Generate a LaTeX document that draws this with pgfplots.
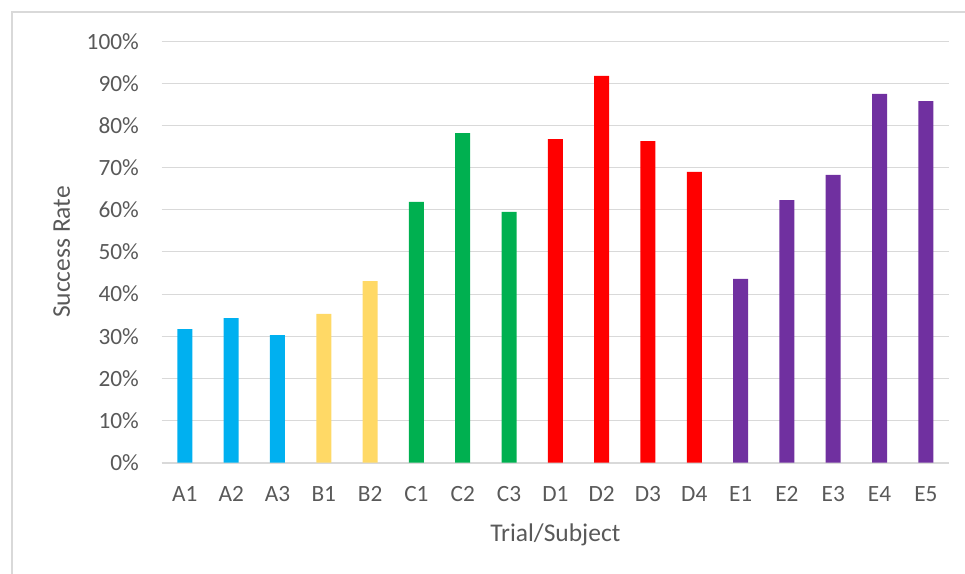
\documentclass[border=0pt]{standalone}
\usepackage{fontspec}
\setmainfont{Carlito}
\usepackage{pgfplots}
\pgfplotsset{compat=1.18}

\definecolor{txtgray}{HTML}{595959}
\definecolor{gridgray}{HTML}{D9D9D9}
\definecolor{cA}{HTML}{00B0F0}
\definecolor{cB}{HTML}{FFD966}
\definecolor{cC}{HTML}{00B050}
\definecolor{cD}{HTML}{FF0000}
\definecolor{cE}{HTML}{7030A0}

\begin{document}
\begin{tikzpicture}
\useasboundingbox (0pt,0pt) rectangle (965pt,573pt);
\draw[gridgray, line width=1.2pt] (12pt,-20pt) -- (12pt,561pt) -- (990pt,561pt);
\begin{axis}[
  at={(161.7pt,110.3pt)}, anchor=south west,
  scale only axis, width=787.3pt, height=421.4pt,
  xmin=-0.5, xmax=16.5, ymin=0, ymax=100,
  ybar, bar width=15pt,
  axis line style={draw=none},
  axis x line*=bottom,
  major tick length=0pt,
  ymajorgrids, grid style={gridgray, line width=1pt},
  xtick={0,...,16},
  xticklabels={A1,A2,A3,B1,B2,C1,C2,C3,D1,D2,D3,D4,E1,E2,E3,E4,E5},
  ytick={0,10,...,100},
  yticklabel={\pgfmathprintnumber{\tick}\%},
  /pgf/number format/assume math mode=true,
  tick label style={font=\fontsize{23.3}{28}\selectfont, text=txtgray},
  yticklabel style={anchor=east, inner sep=0pt, xshift=-22.7pt},
  xticklabel style={anchor=base, inner sep=0pt, yshift=-38.3pt},
  xlabel={Trial/Subject}, ylabel={Success Rate},
  label style={font=\fontsize{25.5}{31}\selectfont, text=txtgray},
  xlabel style={at={(axis description cs:0.5,0)}, anchor=base, inner sep=0pt, yshift=-78.3pt},
  ylabel style={at={(axis description cs:0,0.5)}, anchor=base, inner sep=0pt, yshift=91.7pt},
  every axis plot/.append style={bar shift=0pt, draw=none},
  clip=false,
]
\draw[gridgray, line width=1.6pt] (axis cs:-0.5,0) -- (axis cs:16.5,0);
\addplot[fill=cA] coordinates {(0,31.7) (1,34.3) (2,30.3)};
\addplot[fill=cB] coordinates {(3,35.3) (4,43.1)};
\addplot[fill=cC] coordinates {(5,61.9) (6,78.2) (7,59.5)};
\addplot[fill=cD] coordinates {(8,76.8) (9,91.8) (10,76.3) (11,69.0)};
\addplot[fill=cE] coordinates {(12,43.6) (13,62.3) (14,68.3) (15,87.5) (16,85.8)};
\end{axis}
\end{tikzpicture}
\end{document}
